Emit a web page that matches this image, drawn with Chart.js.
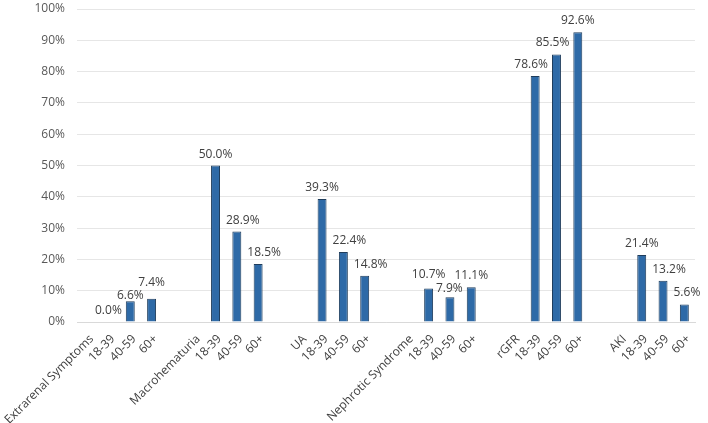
<!DOCTYPE html>
<html>
<head>
<meta charset="utf-8">
<script src="https://cdn.jsdelivr.net/npm/chart.js@4/dist/chart.umd.min.js"></script>
<style>
  html, body { margin: 0; padding: 0; background: #fff; }
  #wrap { width: 708px; height: 423px; }
</style>
</head>
<body>
<div id="wrap"><canvas id="barChart" width="708" height="423"></canvas></div>
<script>
// group names and the age bands shown under each group
const groups = ['Extrarenal Symptoms', 'Macrohematuria', 'UA', 'Nephrotic Syndrome', 'rGFR', 'AKI'];
const ageBands = ['18-39', '40-59', '60+'];

// percentages per group, in age band order
const extrarenal = [0.0, 6.6, 7.4];
const macrohematuria = [50.0, 28.9, 18.5];
const ua = [39.3, 22.4, 14.8];
const nephrotic = [10.7, 7.9, 11.1];
const rgfr = [78.6, 85.5, 92.6];
const aki = [21.4, 13.2, 5.6];

const yTicks = [0, 10, 20, 30, 40, 50, 60, 70, 80, 90, 100];

const groupValues = [extrarenal, macrohematuria, ua, nephrotic, rgfr, aki];

// flatten into one category axis: group name slot, three age slots, blank spacer
const labels = [];
const values = [];
groups.forEach((g, i) => {
  labels.push(g);
  values.push(null);
  ageBands.forEach((a, j) => {
    labels.push(a);
    values.push(groupValues[i][j]);
  });
  if (i < groups.length - 1) {
    labels.push('');
    values.push(null);
  }
});

const FONT = '"Open Sans", "DejaVu Sans", sans-serif';

// draws the value text above each bar, keeping it clear of neighbouring bars and labels
const valueLabels = {
  id: 'valueLabels',
  afterDatasetsDraw(chart) {
    const ctx = chart.ctx;
    const meta = chart.getDatasetMeta(0);
    const lineH = 13;
    const capH = 9;
    ctx.save();
    ctx.font = '12px ' + FONT;
    ctx.fillStyle = '#404040';
    ctx.textAlign = 'center';
    ctx.textBaseline = 'alphabetic';

    const bars = meta.data.map((bar, i) => values[i] === null ? null : bar);
    const items = [];
    bars.forEach((bar, i) => {
      if (!bar) return;
      const text = values[i].toFixed(1) + '%';
      const it = { text, x: bar.x, y: bar.y - 8, w: ctx.measureText(text).width };
      const prev = bars[i - 1];
      const next = bars[i + 1];
      // move right if the previous (taller) bar reaches into the label
      if (prev && prev.y < it.y) {
        const edge = prev.x + prev.width / 2 + 6;
        if (it.x - it.w / 2 < edge) it.x = edge + it.w / 2;
      }
      // move left if the next (taller) bar reaches into the label
      if (next && next.y < it.y) {
        const edge = next.x - next.width / 2 - 4;
        if (it.x + it.w / 2 > edge) it.x = edge - it.w / 2;
      }
      items.push(it);
    });

    for (let k = 1; k < items.length; k++) {
      const a = items[k - 1], b = items[k];
      const overlapX = (a.x + a.w / 2) > (b.x - b.w / 2);
      const dy = Math.abs(a.y - b.y);
      if (overlapX && dy < lineH) {
        const push = (lineH - dy) / 2;
        if (a.y <= b.y) { a.y -= push; b.y += push; }
        else { a.y += push; b.y -= push; }
      }
    }

    items.forEach(it => ctx.fillText(it.text, it.x, it.y));
    ctx.restore();
  }
};

new Chart(document.getElementById('barChart'), {
  type: 'bar',
  data: {
    labels: labels,
    datasets: [{
      data: values,
      backgroundColor: '#2E6AA7',
      borderColor: '#1F3D5C',
      borderWidth: 1,
      barPercentage: 0.42,
      categoryPercentage: 1.0
    }]
  },
  options: {
    responsive: false,
    animation: false,
    layout: { padding: { top: 9, right: 13, bottom: 0, left: 0 } },
    plugins: {
      legend: { display: false },
      tooltip: { enabled: false }
    },
    scales: {
      x: {
        grid: { display: false, drawTicks: false },
        border: { color: '#d9d9d9' },
        afterFit(scale) {
          scale.height = 101;
          scale.paddingLeft = 0;
          scale.paddingRight = 0;
        },
        ticks: {
          autoSkip: false,
          maxRotation: 45,
          minRotation: 45,
          padding: 10,
          labelOffset: 4,
          color: '#404040',
          font: { family: FONT, size: 12 }
        }
      },
      y: {
        min: 0,
        max: 100,
        afterBuildTicks(scale) {
          scale.ticks = yTicks.map(v => ({ value: v }));
        },
        afterFit(scale) {
          scale.width = 77;
          scale.paddingTop = 0;
          scale.paddingBottom = 0;
        },
        grid: { color: '#e6e6e6', drawTicks: false },
        border: { display: false },
        ticks: {
          padding: 12,
          color: '#595959',
          font: { family: FONT, size: 12 },
          callback: v => v + '%'
        }
      }
    }
  },
  plugins: [valueLabels]
});
</script>
</body>
</html>
